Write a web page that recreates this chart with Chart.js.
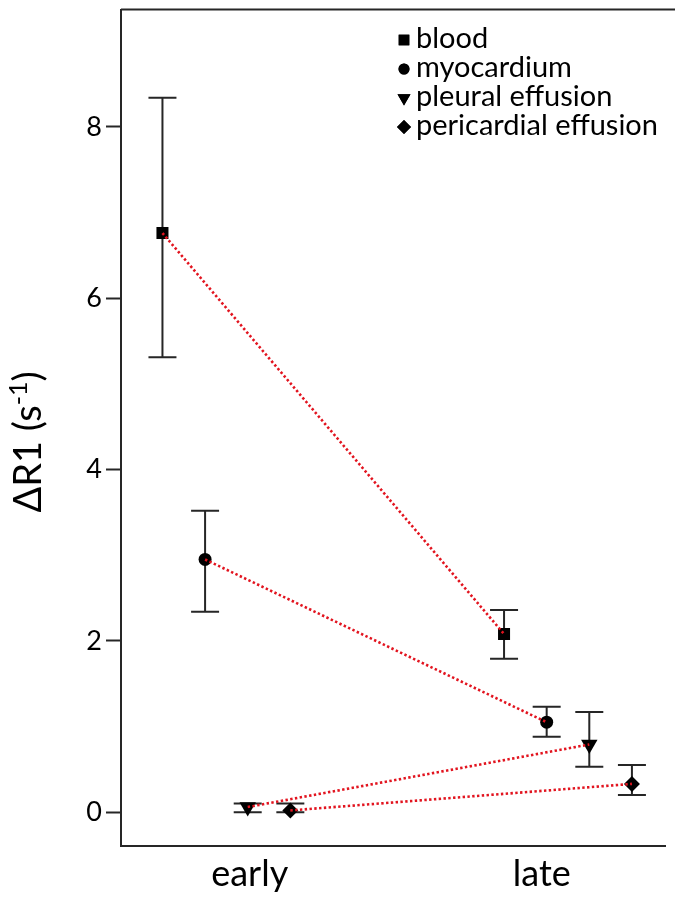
<!DOCTYPE html>
<html>
<head>
<meta charset="utf-8">
<script src="https://cdn.jsdelivr.net/npm/chart.js@4.4.0/dist/chart.umd.min.js"></script>
<style>
  html, body { margin: 0; padding: 0; background: #fff; overflow: hidden; }
  #wrap { width: 675px; height: 898px; }
  canvas { display: block; }
</style>
</head>
<body>
<div id="wrap"><canvas id="r1Chart" width="675" height="898"></canvas></div>
<script>
// time points: label positions and where each group of points sits
var timepoints = ['early', 'late'];
var tickPos = [1, 2];
var groupCenter = [0.92, 2.09];
var seriesGap = 0.146;

var tissues = ['blood', 'myocardium', 'pleural effusion', 'pericardial effusion'];
var markers = ['rect', 'circle', 'triangle', 'rectRot'];
var markerRadius = [8.5, 6.5, 9.5, 8];
var markerRotation = [0, 0, 180, 0];

// mean dR1 with error bar ends, [early, late]
var bloodMean = [6.76, 2.08];
var bloodLow = [5.31, 1.79];
var bloodHigh = [8.34, 2.36];

var myoMean = [2.95, 1.05];
var myoLow = [2.34, 0.88];
var myoHigh = [3.52, 1.23];

var pleuralMean = [0.06, 0.79];
var pleuralLow = [0.00, 0.53];
var pleuralHigh = [0.10, 1.17];

var pericMean = [0.02, 0.33];
var pericLow = [0.00, 0.20];
var pericHigh = [0.10, 0.55];

var yTicks = [0, 2, 4, 6, 8];

var series = [
  { mean: bloodMean, low: bloodLow, high: bloodHigh },
  { mean: myoMean, low: myoLow, high: myoHigh },
  { mean: pleuralMean, low: pleuralLow, high: pleuralHigh },
  { mean: pericMean, low: pericLow, high: pericHigh }
];

var FONT = 'Lato, "Open Sans", sans-serif';
var INK = '#262626';

function xPos(i, g) {
  return groupCenter[g] + (i - 1.5) * seriesGap;
}

function pointsOf(i) {
  return series[i].mean.map(function(v, g) { return { x: xPos(i, g), y: v }; });
}

// red dotted connectors first so they end up drawn over the markers
var datasets = [];
tissues.forEach(function(name, i) {
  datasets.push({
    label: name + ' trend',
    data: pointsOf(i),
    showLine: true,
    borderColor: '#e2141f',
    borderWidth: 2.6,
    borderDash: [2.4, 2.4],
    pointRadius: 0,
    fill: false
  });
});
tissues.forEach(function(name, i) {
  datasets.push({
    label: name,
    data: pointsOf(i),
    showLine: false,
    pointStyle: markers[i],
    pointRadius: markerRadius[i],
    pointRotation: markerRotation[i],
    backgroundColor: '#000',
    borderColor: '#000',
    borderWidth: 0
  });
});

var errorBars = {
  id: 'errorBars',
  beforeDatasetsDraw: function(chart) {
    var ctx = chart.ctx, xs = chart.scales.x, ys = chart.scales.y;
    ctx.save();
    ctx.strokeStyle = INK;
    ctx.lineWidth = 2;
    series.forEach(function(s, i) {
      s.mean.forEach(function(m, g) {
        var px = xs.getPixelForValue(xPos(i, g));
        var top = ys.getPixelForValue(s.high[g]);
        var bot = ys.getPixelForValue(s.low[g]);
        ctx.beginPath();
        ctx.moveTo(px, top); ctx.lineTo(px, bot);
        ctx.moveTo(px - 14, top); ctx.lineTo(px + 14, top);
        ctx.moveTo(px - 14, bot); ctx.lineTo(px + 14, bot);
        ctx.stroke();
      });
    });
    ctx.restore();
  }
};

var frameAndText = {
  id: 'frameAndText',
  afterDraw: function(chart) {
    var ctx = chart.ctx, area = chart.chartArea;
    ctx.save();

    // top frame line
    ctx.strokeStyle = INK;
    ctx.lineWidth = 2;
    ctx.beginPath();
    ctx.moveTo(area.left, area.top);
    ctx.lineTo(chart.width, area.top);
    ctx.stroke();

    // legend
    ctx.fillStyle = '#000';
    ctx.font = '29px ' + FONT;
    ctx.textBaseline = 'middle';
    var legendSizes = [7.5, 5.5, 7.5, 7];
    tissues.forEach(function(name, i) {
      var y = 40 + i * 29;
      Chart.helpers.drawPoint(ctx, {
        pointStyle: markers[i],
        radius: legendSizes[i],
        rotation: markerRotation[i],
        borderWidth: 0
      }, 404, y);
      ctx.fill();
      ctx.fillText(name, 416, y - 1);
    });

    // rotated y axis title with superscript
    ctx.translate(41, 442);
    ctx.rotate(-Math.PI / 2);
    ctx.textBaseline = 'alphabetic';
    ctx.font = '38px ' + FONT;
    var main = '\u0394R1 (s';
    var sup = '-1';
    var wMain = ctx.measureText(main).width;
    ctx.font = '25px ' + FONT;
    var wSup = ctx.measureText(sup).width;
    ctx.font = '38px ' + FONT;
    var start = -(wMain + wSup + ctx.measureText(')').width) / 2;
    ctx.fillText(main, start, 0);
    ctx.font = '25px ' + FONT;
    ctx.fillText(sup, start + wMain, -14);
    ctx.font = '38px ' + FONT;
    ctx.fillText(')', start + wMain + wSup, 0);
    ctx.restore();
  }
};

new Chart(document.getElementById('r1Chart'), {
  type: 'scatter',
  data: { datasets: datasets },
  options: {
    responsive: false,
    animation: false,
    events: [],
    layout: { padding: { top: 6, left: 0, right: 0, bottom: 0 } },
    plugins: {
      legend: { display: false },
      tooltip: { enabled: false }
    },
    scales: {
      x: {
        type: 'linear',
        min: 0.559,
        max: 2.424,
        afterBuildTicks: function(scale) {
          scale.ticks = tickPos.map(function(v) { return { value: v }; });
        },
        afterFit: function(scale) {
          scale.height = 52;
          scale.paddingLeft = 0;
          scale.paddingRight = 0;
        },
        grid: { display: false, drawTicks: false },
        border: { display: true, color: INK, width: 2 },
        ticks: {
          autoSkip: false,
          maxRotation: 0,
          padding: 7,
          color: '#000',
          font: { family: FONT, size: 36 },
          callback: function(v) {
            var k = tickPos.indexOf(v);
            return k >= 0 ? timepoints[k] : '';
          }
        }
      },
      y: {
        min: -0.395,
        max: 9.37,
        afterBuildTicks: function(scale) {
          scale.ticks = yTicks.map(function(v) { return { value: v }; });
        },
        afterFit: function(scale) {
          scale.width = 121;
          scale.paddingTop = 0;
          scale.paddingBottom = 0;
        },
        grid: {
          drawOnChartArea: false,
          drawTicks: true,
          tickLength: 15,
          tickWidth: 2,
          tickColor: INK
        },
        border: { display: true, color: INK, width: 2 },
        ticks: {
          padding: 4,
          color: '#000',
          font: { family: FONT, size: 27 }
        }
      }
    }
  },
  plugins: [errorBars, frameAndText]
});
</script>
</body>
</html>
